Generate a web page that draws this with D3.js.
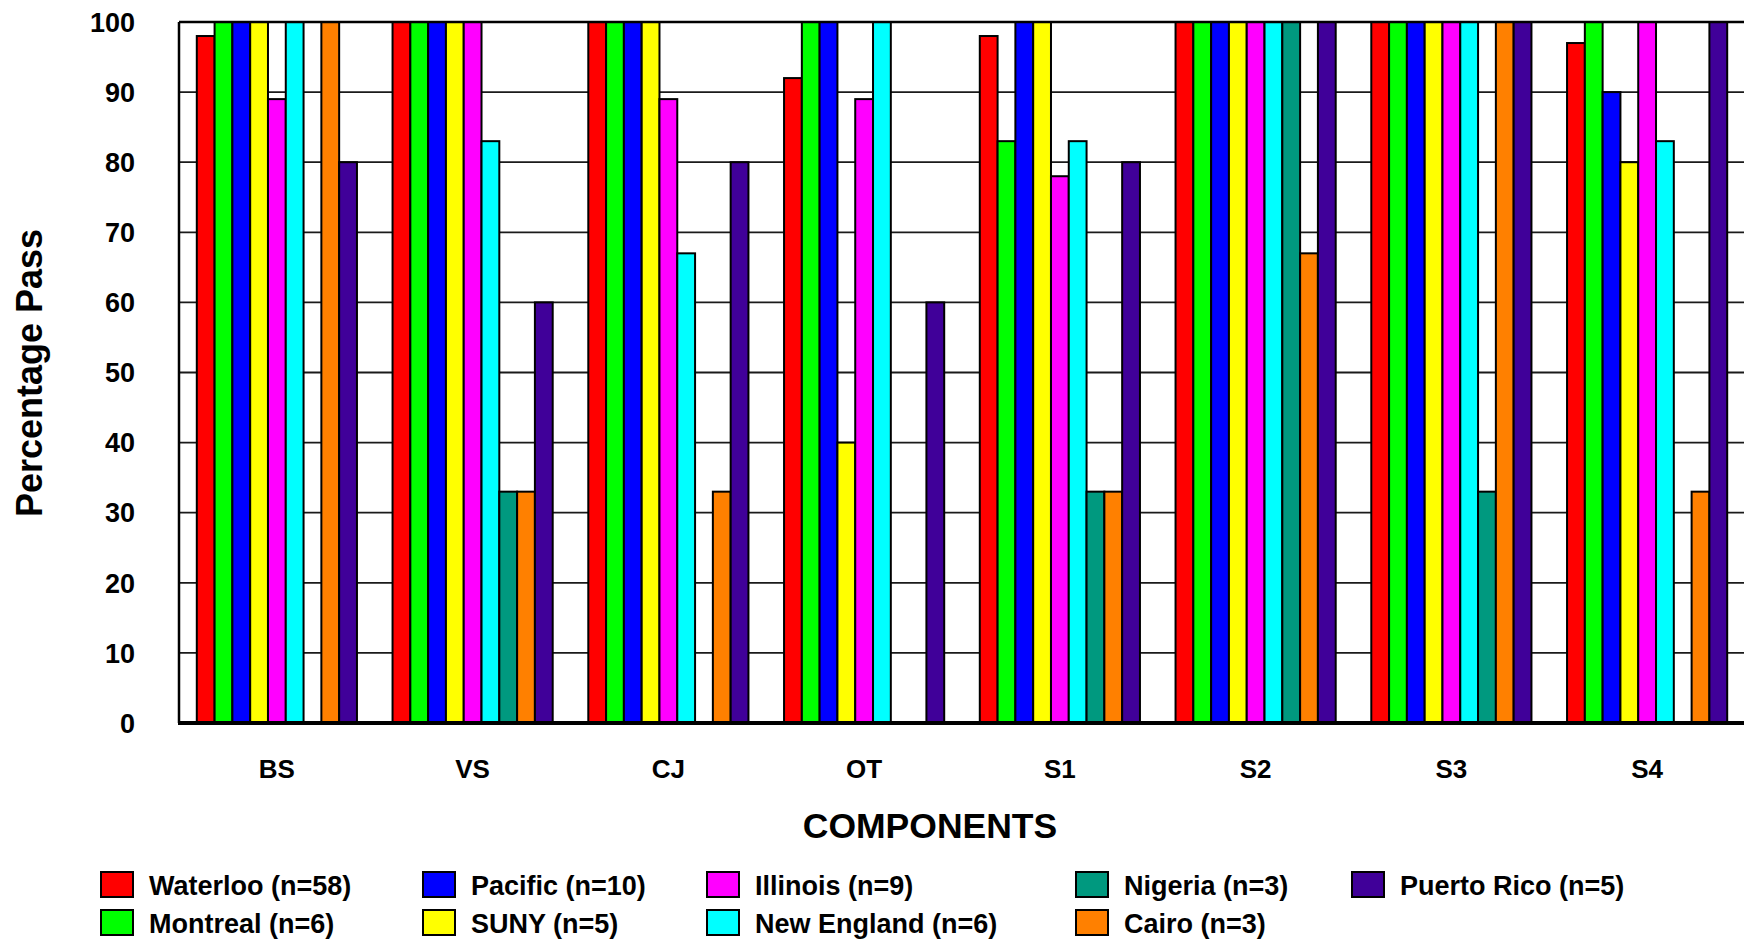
<!DOCTYPE html>
<html>
<head>
<meta charset="utf-8">
<title>Percentage Pass by Component</title>
<script src="https://cdn.jsdelivr.net/npm/d3@7"></script>
<style>
    body{margin:0;background:#fff;}
    svg text{font-family:"Liberation Sans",Arial,sans-serif;font-weight:bold;fill:#000;}
</style>
</head>
<body>
<div id="chart"></div>
<script>
// 数据
var categories=["BS","VS","CJ","OT","S1","S2","S3","S4"];
var seriesNames=["Waterloo (n=58)","Montreal (n=6)","Pacific (n=10)","SUNY (n=5)","Illinois (n=9)",
    "New England (n=6)","Nigeria (n=3)","Cairo (n=3)","Puerto Rico (n=5)"];
var waterloo=[98,100,100,92,98,100,100,97];
var montreal=[100,100,100,100,83,100,100,100];
var pacific=[100,100,100,100,100,100,100,90];
var suny=[100,100,100,40,100,100,100,80];
var illinois=[89,100,89,89,78,100,100,100];
var newEngland=[100,83,67,100,83,100,100,83];
var nigeria=[0,33,0,0,33,100,33,0];
var cairo=[100,33,33,0,33,67,100,33];
var puertoRico=[80,60,80,60,80,100,100,100];
var yTicks=[0,10,20,30,40,50,60,70,80,90,100];

var seriesValues=[waterloo,montreal,pacific,suny,illinois,newEngland,nigeria,cairo,puertoRico];
var colors=["#ff0000","#00ff00","#0000ff","#ffff00","#ff00ff","#00ffff","#00997f","#ff8000","#400099"];

var width=1744,height=942;
var plotLeft=179,plotTop=22,plotBottom=723,plotRight=1745;

var svg=d3.select("#chart").append("svg")
    .attr("width",width)
    .attr("height",height);

var x0=d3.scaleBand().domain(categories).range([plotLeft,plotRight]).paddingInner(0).paddingOuter(0);
var x1=d3.scaleBand().domain(d3.range(seriesNames.length)).range([0,x0.bandwidth()]).paddingInner(0).paddingOuter(1);
var y=d3.scaleLinear().domain([0,100]).range([plotBottom,plotTop]);

// 网格线
svg.append("g").selectAll("line")
    .data(yTicks.filter(function(d){return d>0&&d<100;}))
    .enter().append("line")
    .attr("x1",plotLeft).attr("x2",width)
    .attr("y1",function(d){return y(d);})
    .attr("y2",function(d){return y(d);})
    .attr("stroke","#1a1a1a")
    .attr("stroke-width",1.8);

// 柱子
var groups=svg.append("g").selectAll("g")
    .data(categories)
    .enter().append("g")
    .attr("transform",function(d){return "translate("+x0(d)+",0)";});

groups.selectAll("rect")
    .data(function(d,ci){
        return seriesValues.map(function(vals,si){return {si:si,v:vals[ci]};}).filter(function(o){return o.v>0;});
    })
    .enter().append("rect")
    .attr("x",function(d){return x1(d.si);})
    .attr("width",x1.bandwidth())
    .attr("y",function(d){return y(d.v);})
    .attr("height",function(d){return y(0)-y(d.v);})
    .attr("fill",function(d){return colors[d.si];})
    .attr("stroke","#000")
    .attr("stroke-width",2);

// 边框
svg.append("line").attr("x1",plotLeft).attr("x2",width).attr("y1",plotTop).attr("y2",plotTop)
    .attr("stroke","#000").attr("stroke-width",2.5);
svg.append("line").attr("x1",plotLeft).attr("x2",plotLeft).attr("y1",plotTop).attr("y2",plotBottom)
    .attr("stroke","#000").attr("stroke-width",2.5);
svg.append("line").attr("x1",plotLeft-1).attr("x2",width).attr("y1",plotBottom).attr("y2",plotBottom)
    .attr("stroke","#000").attr("stroke-width",4);

// y轴刻度
svg.append("g").selectAll("text")
    .data(yTicks)
    .enter().append("text")
    .attr("x",135)
    .attr("y",function(d){return y(d);})
    .attr("dy","0.36em")
    .attr("text-anchor","end")
    .style("font-size","27px")
    .text(function(d){return d;});

// x轴类别
svg.append("g").selectAll("text")
    .data(categories)
    .enter().append("text")
    .attr("x",function(d){return x0(d)+x0.bandwidth()/2;})
    .attr("y",778)
    .attr("text-anchor","middle")
    .style("font-size","26px")
    .text(function(d){return d;});

// 标题
svg.append("text")
    .attr("x",930).attr("y",838)
    .attr("text-anchor","middle")
    .style("font-size","35.5px")
    .text("COMPONENTS");

svg.append("text")
    .attr("transform","translate(42,373) rotate(-90)")
    .attr("text-anchor","middle")
    .style("font-size","36px")
    .text("Percentage Pass");

// 图例
var legendCols=[101,423,707,1076,1352];
var legendRows=[872,910];
var legend=svg.append("g").selectAll("g")
    .data(seriesNames)
    .enter().append("g")
    .attr("transform",function(d,i){
        return "translate("+legendCols[Math.floor(i/2)]+","+legendRows[i%2]+")";
    });
legend.append("rect")
    .attr("width",32).attr("height",25)
    .attr("fill",function(d,i){return colors[i];})
    .attr("stroke","#000")
    .attr("stroke-width",2);
legend.append("text")
    .attr("x",48).attr("y",23)
    .style("font-size","27px")
    .text(function(d){return d;});
</script>
</body>
</html>
